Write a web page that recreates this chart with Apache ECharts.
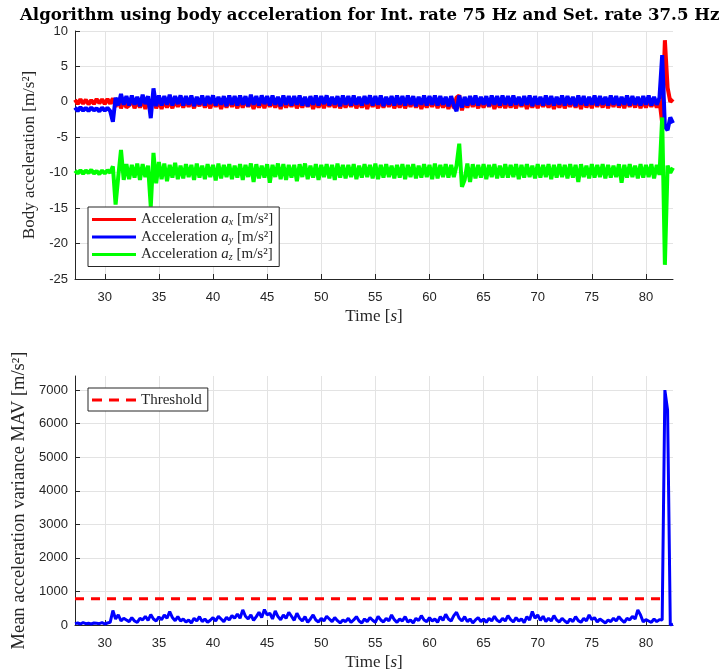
<!DOCTYPE html>
<html>
<head>
<meta charset="utf-8">
<script src="https://cdn.jsdelivr.net/npm/echarts@6/dist/echarts.min.js"></script>
<style>html,body{margin:0;padding:0;background:#fff;}#c{width:726px;height:672px;}</style>
</head>
<body>
<div id="c"></div>
<script>
// Sampling of the signals (s)
const T0 = 27.25;
const DT = 0.25;

// Body acceleration a_x (red)
const ax = [
 0.3,-0.3,0.35,-0.25,0.3,-0.35,0.25,-0.3,0.4,-0.2,0.35,-0.3,0.4,-0.25,0.5,-0.7,0.3,-0.9,0.2,-0.8,
 -0.5,0.3,-0.9,0.2,-0.8,0.4,-1.0,0.3,-0.7,0.5,-0.9,0.2,-1.0,0.3,-0.8,0.2,-0.9,0.3,-0.7,0.2,
 -0.8,0.3,-0.7,0.2,-0.9,0.3,-0.6,0.4,-0.8,0.2,-0.9,0.3,-0.7,0.2,-1.0,0.3,-0.8,0.4,-0.7,0.2,
 -0.9,0.3,-0.8,0.4,-0.7,0.2,-1.0,0.3,-0.8,0.3,-0.9,0.4,-0.7,0.2,-0.8,0.3,-1.0,0.4,-0.8,0.2,
 -0.7,0.3,-0.9,0.2,-0.8,0.4,-0.7,0.3,-1.0,0.2,-0.8,0.3,-0.9,0.4,-0.7,0.2,-0.8,0.3,-0.9,0.2,
 -0.8,0.4,-0.7,0.3,-0.9,0.2,-0.8,0.3,-1.0,0.4,-0.7,0.2,-0.9,0.3,-0.8,0.4,-0.7,0.3,-0.9,0.2,
 -0.8,0.3,-0.9,0.2,-0.7,0.4,-0.8,0.3,-1.0,0.2,-0.8,0.3,-0.7,0.4,-0.9,0.3,-0.8,0.2,-1.0,0.3,
 -0.9,0.6,0.9,-1.2,0.3,-0.8,0.4,-0.7,0.2,-0.9,0.3,-0.8,0.4,-0.7,0.3,-1.0,0.2,-0.8,0.3,-0.9,
 0.3,-0.8,0.2,-0.9,0.4,-0.7,0.3,-1.0,0.2,-0.8,0.3,-0.9,0.4,-0.7,0.2,-0.8,0.3,-1.0,0.4,-0.8,
 0.3,-0.9,0.2,-0.7,0.4,-0.8,0.3,-1.0,0.5,-0.8,0.3,-0.9,0.6,-0.7,0.4,-0.8,0.5,-0.9,0.4,-0.7,
 0.5,-0.8,0.4,-0.9,0.5,-0.7,0.4,-0.8,0.5,-0.9,0.3,-0.8,0.4,-0.7,0.3,-0.8,0.2,-3.0,8.7,2.0,
 0.0,0.4
];

// Body acceleration a_y (blue)
const ay = [
 -0.8,-1.3,-0.75,-1.25,-0.85,-1.3,-0.8,-1.2,-0.9,-1.35,-0.8,-1.25,-0.85,-1.3,-2.8,0.6,-0.5,1.1,-0.4,0.8,
 -0.5,0.9,-0.4,0.7,-0.6,1.0,-0.3,0.8,-2.3,1.9,-0.6,0.9,-0.5,0.8,-0.4,1.0,-0.5,0.8,-0.3,0.9,
 -0.5,0.8,-0.4,0.9,-0.6,0.7,-0.4,0.9,-0.5,0.8,-0.3,0.9,-0.5,0.7,-0.4,0.8,-0.6,0.9,-0.4,0.8,
 -0.5,0.9,-0.4,0.8,-0.6,1.0,-0.4,0.8,-0.5,0.9,-0.3,0.8,-0.5,0.9,-0.4,0.7,-0.6,0.9,-0.4,0.8,
 -0.5,0.8,-0.4,0.9,-0.5,0.7,-0.6,0.8,-0.4,0.9,-0.5,0.8,-0.3,0.9,-0.5,0.7,-0.4,0.8,-0.6,0.9,
 -0.4,0.8,-0.5,0.9,-0.4,0.7,-0.5,0.8,-0.3,0.9,-0.5,0.8,-0.4,0.9,-0.6,0.7,-0.4,0.8,-0.5,0.9,
 -0.4,0.8,-0.5,0.9,-0.4,0.8,-0.6,0.7,-0.4,0.9,-0.5,0.8,-0.4,0.9,-0.5,0.8,-0.4,0.7,-0.6,0.8,
 -0.5,-1.3,0.9,-0.8,0.7,-0.5,0.8,-0.4,0.9,-0.5,0.7,-0.4,0.8,-0.6,0.9,-0.4,0.8,-0.5,0.9,-0.4,
 0.8,-0.5,0.9,-0.4,0.7,-0.5,0.8,-0.4,0.9,-0.6,0.8,-0.4,0.7,-0.5,0.9,-0.4,0.8,-0.5,0.7,-0.4,
 0.9,-0.5,0.8,-0.4,0.7,-0.6,0.9,-0.4,0.8,-0.5,0.7,-0.4,0.9,-0.5,0.8,-0.4,0.7,-0.5,0.9,-0.4,
 0.8,-0.5,0.7,-0.4,0.9,-0.5,0.8,-0.4,0.7,-0.5,0.8,-0.4,0.9,-0.5,0.7,-0.4,0.6,6.6,-3.5,-4.0,
 -2.2,-3.0
];

// Body acceleration a_z (green)
const az = [
 -9.7,-10.1,-9.65,-10.15,-9.7,-10.05,-9.6,-10.1,-9.75,-10.2,-9.7,-10.1,-9.65,-10.0,-9.1,-14.5,-10.5,-6.8,-11.0,-8.8,
 -10.9,-8.9,-10.7,-8.7,-11.0,-8.8,-10.6,-9.0,-14.8,-7.2,-11.5,-8.5,-10.9,-8.7,-11.2,-8.9,-10.7,-8.6,-10.9,-9.0,
 -10.8,-8.8,-10.6,-8.9,-11.0,-8.7,-10.7,-9.0,-10.9,-8.8,-10.6,-8.9,-11.1,-8.7,-10.8,-8.9,-10.6,-8.8,-10.9,-9.0,
 -10.7,-8.8,-11.0,-8.9,-10.6,-8.7,-11.3,-8.8,-10.8,-9.0,-10.7,-8.8,-11.4,-8.9,-10.6,-8.7,-10.9,-8.8,-11.0,-8.9,
 -10.7,-8.9,-11.2,-8.8,-10.6,-8.7,-10.9,-9.0,-10.7,-8.8,-11.0,-8.9,-10.6,-8.8,-10.8,-8.9,-11.0,-8.7,-10.7,-8.9,
 -10.8,-8.9,-10.6,-8.8,-10.9,-9.0,-10.7,-8.8,-10.6,-8.9,-10.8,-8.7,-10.9,-8.9,-10.7,-8.8,-10.6,-9.0,-10.8,-8.9,
 -10.7,-8.8,-10.9,-8.9,-10.6,-8.8,-10.8,-9.0,-10.7,-8.8,-10.6,-8.9,-10.9,-8.7,-10.8,-8.9,-10.6,-8.8,-10.7,-8.9,
 -10.6,-9.0,-5.9,-12.0,-11.0,-8.7,-11.3,-8.8,-10.8,-8.9,-10.7,-8.8,-10.9,-8.9,-10.6,-8.8,-10.8,-9.0,-10.7,-8.8,
 -10.7,-8.9,-10.6,-8.8,-10.9,-8.9,-10.7,-8.8,-10.6,-9.0,-10.8,-8.8,-10.7,-8.9,-10.6,-8.8,-10.9,-8.9,-10.7,-8.8,
 -10.6,-8.9,-10.8,-8.8,-10.7,-8.9,-11.3,-8.8,-10.6,-9.0,-10.8,-8.8,-10.7,-8.9,-10.6,-8.8,-10.8,-8.9,-10.7,-9.0,
 -10.6,-8.8,-11.4,-8.9,-10.7,-8.8,-10.6,-9.0,-10.8,-8.8,-10.7,-8.9,-10.6,-8.8,-10.8,-8.9,-10.3,-2.2,-23.0,-9.0,
 -10.0,-9.3
];

// Mean acceleration variance MAV (blue, lower plot)
const mav = [
 40,60,30,70,40,50,30,60,50,40,70,30,60,80,430,180,300,120,200,150,
 100,220,120,80,200,150,260,140,310,180,120,240,160,300,200,400,220,130,250,120,
 180,90,150,60,200,120,250,100,180,80,140,220,120,260,180,100,230,150,280,200,
 330,200,450,260,180,300,140,250,380,220,460,300,350,180,420,250,160,300,200,380,
 260,140,350,200,120,250,80,180,300,150,90,200,120,260,180,100,220,130,60,150,
 100,200,80,150,250,120,60,180,100,220,140,80,260,150,90,200,120,300,160,80,
 180,120,250,90,150,60,200,130,280,150,100,220,120,180,80,250,140,320,180,120,
 280,380,200,120,250,100,180,60,150,220,100,180,80,200,120,260,140,90,200,120,
 280,160,90,220,120,180,70,250,150,400,200,300,140,260,100,200,120,280,150,90,
 200,120,60,180,100,250,130,80,200,120,300,160,220,90,180,120,60,150,100,200,
 120,250,150,80,200,150,260,180,450,300,90,160,120,80,180,100,160,150,7000,6400,
 0,20
];

// Threshold line
const thresholdT = [27.25, 81.75];
const thresholdV = [780, 780];

const titleText = 'Algorithm using body acceleration for Int. rate 75 Hz and Set. rate 37.5 Hz';
const xRange = [27.25, 82.5];
const yTopRange = [-25, 10];
const yBotRange = [0, 7420];

const withTime = arr => arr.map((v, i) => [T0 + i * DT, v]);

const INK = '#262626';
const GRID = '#e3e3e3';
const SERIF = '"Liberation Serif", "Times New Roman", serif';
const SANS = '"Liberation Sans", Arial, sans-serif';

function xAxis(gridIndex) {
  return {
    type: 'value', gridIndex, min: xRange[0], max: xRange[1],
    splitNumber: 11, minInterval: 5, maxInterval: 5,
    name: 'Time [{i|s}]', nameLocation: 'middle', nameGap: 29,
    nameTextStyle: { fontFamily: SERIF, fontSize: 17, color: INK,
      rich: { i: { fontFamily: SERIF, fontSize: 17, fontStyle: 'italic', color: INK } } },
    axisLine: { show: true, onZero: false, lineStyle: { color: INK, width: 1 } },
    axisTick: { show: true, inside: true, length: 5, lineStyle: { color: INK } },
    axisLabel: { color: INK, fontFamily: SANS, fontSize: 13, margin: 12, showMinLabel: false, showMaxLabel: false },
    splitLine: { show: true, showMinLine: false, showMaxLine: false, lineStyle: { color: GRID, width: 1 } }
  };
}

const legendRich = {
  n: { fontFamily: SERIF, fontSize: 15, color: INK, lineHeight: 16 },
  i: { fontFamily: SERIF, fontSize: 15, fontStyle: 'italic', color: INK, lineHeight: 16 },
  s: { fontFamily: SERIF, fontSize: 10, fontStyle: 'italic', color: INK, lineHeight: 10, verticalAlign: 'bottom' }
};
const legendNames = { ax: 'x', ay: 'y', az: 'z' };
const dashedIcon = 'path://M0,0h10v3h-10z M17,0h10v3h-10z M34,0h10v3h-10z';

const option = {
  animation: false,
  backgroundColor: '#fff',
  title: {
    text: titleText, left: 20, top: 7, padding: 0,
    textStyle: { fontFamily: '"DejaVu Serif", serif', fontWeight: 'bold', fontSize: 16.6, color: '#000' }
  },
  grid: [
    { left: 75, right: 53, top: 31, height: 248 },
    { left: 75, right: 53, top: 376, height: 249 }
  ],
  xAxis: [xAxis(0), xAxis(1)],
  yAxis: [
    {
      type: 'value', gridIndex: 0, min: yTopRange[0], max: yTopRange[1], interval: 5,
      name: 'Body acceleration [m/s²]', nameLocation: 'middle', nameGap: 21,
      nameTextStyle: { fontFamily: SERIF, fontSize: 17, color: INK },
      axisLine: { show: true, onZero: false, lineStyle: { color: INK, width: 1 } },
      axisTick: { show: true, inside: true, length: 5, lineStyle: { color: INK } },
      axisLabel: { color: INK, fontFamily: SANS, fontSize: 13, margin: 7 },
      splitLine: { show: true, lineStyle: { color: GRID, width: 1 } }
    },
    {
      type: 'value', gridIndex: 1, min: yBotRange[0], max: yBotRange[1], interval: 1000,
      name: 'Mean acceleration variance MAV [m/s²]', nameLocation: 'middle', nameGap: 41,
      nameTextStyle: { fontFamily: SERIF, fontSize: 18.5, color: INK },
      axisLine: { show: true, onZero: false, lineStyle: { color: INK, width: 1 } },
      axisTick: { show: true, inside: true, length: 5, lineStyle: { color: INK } },
      axisLabel: { color: INK, fontFamily: SANS, fontSize: 13, margin: 7, showMaxLabel: false,
        formatter: v => String(v) },
      splitLine: { show: true, showMaxLine: false, lineStyle: { color: GRID, width: 1 } }
    }
  ],
  legend: [
    {
      orient: 'vertical', left: 88, top: 207,
      data: [{ name: 'ax', icon: 'rect' }, { name: 'ay', icon: 'rect' }, { name: 'az', icon: 'rect' }],
      itemWidth: 44, itemHeight: 3, itemGap: 2,
      padding: [5, 6, 4, 4],
      backgroundColor: '#fff', borderColor: INK, borderWidth: 1, borderRadius: 0,
      selectedMode: false,
      formatter: name => `{n|Acceleration }{i|a}{s|${legendNames[name]}}{n| [m/s²]}`,
      textStyle: { rich: legendRich }
    },
    {
      orient: 'vertical', left: 88, top: 388,
      data: [{ name: 'Threshold', icon: dashedIcon }],
      itemWidth: 44, itemHeight: 3, itemGap: 2,
      padding: [4, 6, 3, 4],
      backgroundColor: '#fff', borderColor: INK, borderWidth: 1, borderRadius: 0,
      selectedMode: false,
      textStyle: { fontFamily: SERIF, fontSize: 15, color: INK, lineHeight: 16 }
    }
  ],
  series: [
    { name: 'ax', type: 'line', xAxisIndex: 0, yAxisIndex: 0, data: withTime(ax), symbol: 'none',
      color: '#ff0000', lineStyle: { color: '#ff0000', width: 4 } },
    { name: 'ay', type: 'line', xAxisIndex: 0, yAxisIndex: 0, data: withTime(ay), symbol: 'none',
      color: '#0000ff', lineStyle: { color: '#0000ff', width: 4 } },
    { name: 'az', type: 'line', xAxisIndex: 0, yAxisIndex: 0, data: withTime(az), symbol: 'none',
      color: '#00ff00', lineStyle: { color: '#00ff00', width: 4 } },
    { name: 'MAV', type: 'line', xAxisIndex: 1, yAxisIndex: 1, data: withTime(mav), symbol: 'none',
      color: '#0000ff', lineStyle: { color: '#0000ff', width: 3 } },
    { name: 'Threshold', type: 'line', xAxisIndex: 1, yAxisIndex: 1,
      data: thresholdT.map((t, i) => [t, thresholdV[i]]), symbol: 'none',
      color: '#ff0000', lineStyle: { color: '#ff0000', width: 3, type: [9, 7] }, z: 3 }
  ]
};

const chart = echarts.init(document.getElementById('c'), null, { renderer: 'canvas' });
chart.setOption(option);
</script>
</body>
</html>
